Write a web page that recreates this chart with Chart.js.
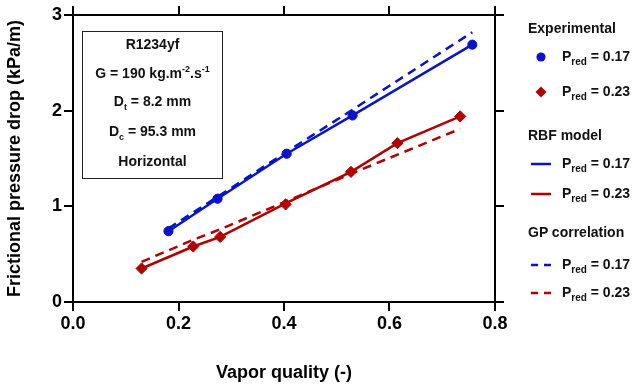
<!DOCTYPE html>
<html>
<head>
<meta charset="utf-8">
<script src="https://cdn.jsdelivr.net/npm/chart.js@4"></script>
<style>
  body { margin: 0; background: #fff; }
  #wrap { position: relative; width: 634px; height: 384px; font-family: "Liberation Sans", Arial, sans-serif; font-weight: bold; color: #111; }
  #chart { position: absolute; left: 0; top: 0; }
  .box { position: absolute; left: 82px; top: 31px; width: 139px; height: 146px; border: 1.5px solid #222; }
  .box div { position: absolute; left: 0; width: 100%; text-align: center; font-size: 14px; line-height: 16px; }
  .box sub, .box sup { font-size: 9px; line-height: 0; }
  .leg { position: absolute; font-size: 14px; line-height: 16px; white-space: nowrap; }
  .leg sub { font-size: 10px; line-height: 0; vertical-align: -4px; }
  .sw { position: absolute; }
</style>
</head>
<body>
<div id="wrap">
  <canvas id="chart" width="634" height="384"></canvas>

  <div class="box">
    <div style="top:4px">R1234yf</div>
    <div style="top:33px">G = 190 kg.m<sup>-2</sup>.s<sup>-1</sup></div>
    <div style="top:61px">D<sub>t</sub> = 8.2 mm</div>
    <div style="top:91px">D<sub>c</sub> = 95.3 mm</div>
    <div style="top:121px">Horizontal</div>
  </div>

  <div class="leg" style="left:528px;top:20px">Experimental</div>
  <svg class="sw" style="left:531px;top:47px" width="20" height="20"><circle cx="10" cy="10" r="4.6" fill="#0814cc"/></svg>
  <div class="leg" style="left:562px;top:48px">P<sub>red</sub> = 0.17</div>
  <svg class="sw" style="left:531px;top:82px" width="20" height="20"><polygon points="10,4.5 15.5,10 10,15.5 4.5,10" fill="#b00000"/></svg>
  <div class="leg" style="left:562px;top:83px">P<sub>red</sub> = 0.23</div>

  <div class="leg" style="left:528px;top:127px">RBF model</div>
  <svg class="sw" style="left:531px;top:154px" width="20" height="20"><line x1="0" y1="10" x2="20" y2="10" stroke="#0814cc" stroke-width="2.5"/></svg>
  <div class="leg" style="left:562px;top:155px">P<sub>red</sub> = 0.17</div>
  <svg class="sw" style="left:531px;top:184px" width="20" height="20"><line x1="0" y1="10" x2="20" y2="10" stroke="#b00000" stroke-width="2.5"/></svg>
  <div class="leg" style="left:562px;top:185px">P<sub>red</sub> = 0.23</div>

  <div class="leg" style="left:528px;top:224px">GP correlation</div>
  <svg class="sw" style="left:531px;top:255px" width="20" height="20"><line x1="0" y1="10" x2="20" y2="10" stroke="#0814cc" stroke-width="2.5" stroke-dasharray="7,6"/></svg>
  <div class="leg" style="left:562px;top:256px">P<sub>red</sub> = 0.17</div>
  <svg class="sw" style="left:531px;top:283px" width="20" height="20"><line x1="0" y1="10" x2="20" y2="10" stroke="#b00000" stroke-width="2.5" stroke-dasharray="7,6"/></svg>
  <div class="leg" style="left:562px;top:284px">P<sub>red</sub> = 0.23</div>
</div>

<script>
    // experimental points
    const xExp017 = [0.181, 0.274, 0.405, 0.530, 0.757];
    const yExp017 = [0.74, 1.08, 1.55, 1.95, 2.69];
    const xExp023 = [0.130, 0.228, 0.279, 0.403, 0.527, 0.615, 0.734];
    const yExp023 = [0.35, 0.58, 0.68, 1.02, 1.36, 1.66, 1.94];

    // RBF model predictions
    const yRbf017 = [0.74, 1.08, 1.55, 1.95, 2.69];
    const yRbf023 = [0.35, 0.58, 0.68, 1.03, 1.36, 1.66, 1.94];

    // GP correlation
    const yGp017 = [0.77, 1.10, 1.57, 2.01, 2.82];
    const yGp023 = [0.42, 0.65, 0.76, 1.05, 1.34, 1.54, 1.81];

    const xTicks = [0, 0.2, 0.4, 0.6, 0.8];
    const yTicks = [0, 1, 2, 3];

    const blue = '#0814cc';
    const red = '#b00000';
    const FONT = '"Liberation Sans", Arial, sans-serif';

    const pts = (xs, ys) => xs.map((x, i) => ({ x: x, y: ys[i] }));

    const lineSet = (xs, ys, color, dash) => ({
        data: pts(xs, ys),
        showLine: true,
        borderColor: color,
        borderWidth: 2.5,
        borderDash: dash,
        pointRadius: 0,
        tension: 0,
        fill: false
    });

    const datasets = [
        { data: pts(xExp017, yExp017), backgroundColor: blue, borderColor: blue, pointStyle: 'circle', pointRadius: 4.6, showLine: false },
        { data: pts(xExp023, yExp023), backgroundColor: red, borderColor: red, pointStyle: 'rectRot', pointRadius: 5.6, showLine: false },
        lineSet(xExp017, yRbf017, blue, []),
        lineSet(xExp023, yRbf023, red, []),
        lineSet(xExp017, yGp017, blue, [9, 6]),
        lineSet(xExp023, yGp023, red, [9, 6])
    ];

    const fixedTicks = vals => axis => { axis.ticks = vals.map(v => ({ value: v })); };

    const edge = (pos, size, ticks, showLabels, title, titlePad) => ({
        type: 'linear',
        position: pos,
        min: ticks[0],
        max: ticks[ticks.length - 1],
        afterBuildTicks: fixedTicks(ticks),
        afterFit: s => { if (pos === 'left' || pos === 'right') s.width = size; else s.height = size; },
        border: { display: true, color: '#000', width: 2 },
        grid: { drawOnChartArea: false, drawTicks: true, tickLength: 9, color: '#000', lineWidth: 2 },
        ticks: {
            display: showLabels,
            color: '#000',
            padding: 2,
            font: { family: FONT, size: 18, weight: 'bold' },
            callback: v => (pos === 'bottom' ? v.toFixed(1) : String(v))
        },
        title: title ? {
            display: true,
            text: title,
            color: '#000',
            font: { family: FONT, size: 18, weight: 'bold' },
            padding: titlePad
        } : { display: false }
    });

    const ctx = document.getElementById('chart');
    new Chart(ctx, {
        type: 'scatter',
        data: { datasets: datasets },
        options: {
            responsive: false,
            animation: false,
            layout: { padding: 0 },
            scales: {
                x: edge('bottom', 82, xTicks, true, 'Vapor quality (-)', { top: 0, bottom: 0 }),
                x2: edge('top', 15, xTicks, false, null),
                y: edge('left', 73, yTicks, true, 'Frictional pressure drop (kPa/m)', { top: 4, bottom: 0 }),
                y2: edge('right', 139, yTicks, false, null)
            },
            plugins: {
                legend: { display: false },
                tooltip: { enabled: false }
            }
        }
    });
</script>
</body>
</html>
